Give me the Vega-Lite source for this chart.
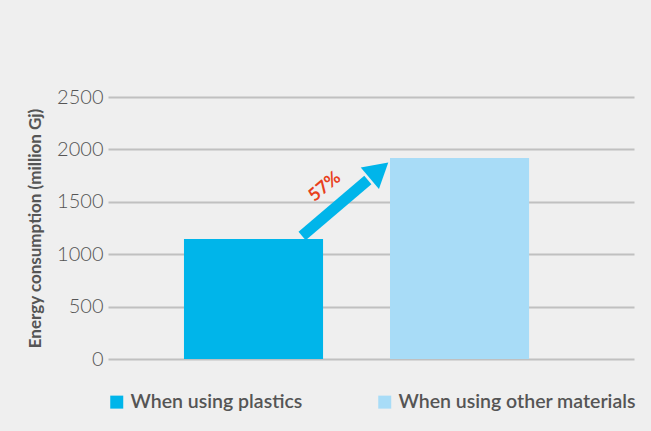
{
  "$schema": "https://vega.github.io/schema/vega-lite/v6.json",
  "width": 526,
  "height": 262,
  "autosize": "none",
  "padding": {"left": 108, "top": 97, "right": 17, "bottom": 72},
  "background": "#efefef",
  "config": {"view": {"stroke": null}, "font": "Lato"},
  "layer": [
    {
      "data": {"values": [
        {"case": "When using plastics", "energy": 1145},
        {"case": "When using other materials", "energy": 1918}
      ]},
      "mark": {"type": "bar"},
      "encoding": {
        "x": {"field": "case", "type": "nominal", "sort": null,
              "scale": {"paddingInner": 0.325, "paddingOuter": 0.439, "align": 0.42},
              "axis": null},
        "y": {"field": "energy", "type": "quantitative",
              "scale": {"domain": [0, 2500], "nice": false},
              "axis": {"values": [0, 500, 1000, 1500, 2000, 2500], "format": "d", "title": "Energy consumption (million Gj)",
                       "domain": false, "ticks": false, "grid": true, "gridColor": "#c0c0c0", "gridWidth": 2,
                       "labelFontSize": 20, "labelFontWeight": 300, "labelColor": "#555555", "labelPadding": 5,
                       "titleFontSize": 17, "titleFontWeight": "bold", "titleColor": "#555555", "titlePadding": 12}},
        "color": {"field": "case", "type": "nominal", "sort": null,
                  "scale": {"domain": ["When using plastics", "When using other materials"], "range": ["#00b5ea", "#a8dcf7"]},
                  "legend": {"title": null, "orient": "none", "legendX": -1, "legendY": 295, "direction": "horizontal",
                             "columns": 2, "symbolType": "square", "symbolSize": 169, "symbolStrokeWidth": 0,
                             "labelFontSize": 19.5, "labelFontWeight": 600, "labelColor": "#555555", "labelOffset": 4,
                             "labelLimit": 0, "columnPadding": 72}}
      }
    },
    {
      "data": {"values": [{"xs": 0.369, "xe": 0.494, "ys": 1174, "ye": 1708}]},
      "mark": {"type": "rule", "color": "#00b5ea", "strokeWidth": 11, "strokeCap": "butt"},
      "encoding": {
        "x": {"field": "xs", "type": "quantitative", "scale": {"domain": [0, 1]}, "axis": null},
        "x2": {"field": "xe"},
        "y": {"field": "ys", "type": "quantitative"},
        "y2": {"field": "ye"}
      }
    },
    {
      "data": {"values": [{"xh": 0.5095, "yh": 1775}]},
      "mark": {"type": "point", "shape": "triangle", "filled": true, "color": "#00b5ea", "opacity": 1, "size": 784, "angle": 49.5},
      "encoding": {
        "x": {"field": "xh", "type": "quantitative", "scale": {"domain": [0, 1]}, "axis": null},
        "y": {"field": "yh", "type": "quantitative"}
      }
    },
    {
      "data": {"values": [{"xl": 0.4125, "yl": 1641, "label": "57%"}]},
      "mark": {"type": "text", "color": "#e8401c", "fontSize": 18, "fontWeight": "bold", "angle": -40, "align": "center", "baseline": "middle"},
      "encoding": {
        "x": {"field": "xl", "type": "quantitative", "scale": {"domain": [0, 1]}, "axis": null},
        "y": {"field": "yl", "type": "quantitative"},
        "text": {"field": "label"}
      }
    }
  ],
  "resolve": {"scale": {"x": "independent"}}
}
